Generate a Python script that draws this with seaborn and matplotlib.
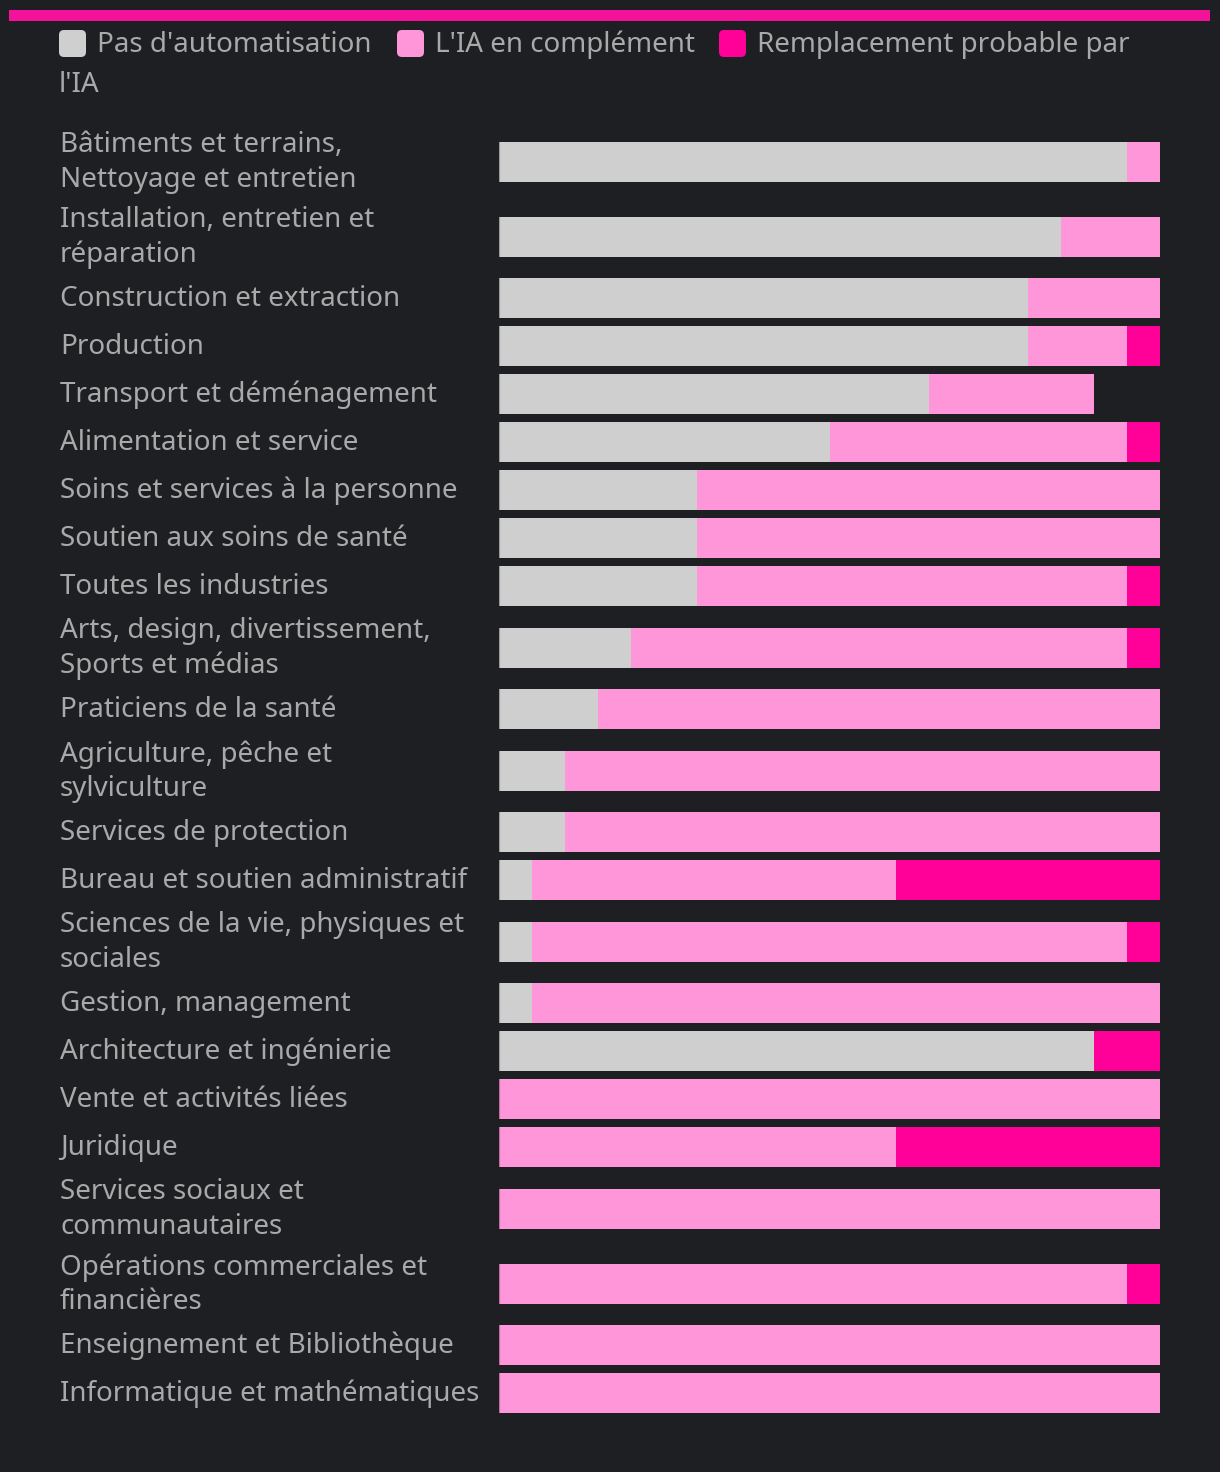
import numpy as np
import pandas as pd
import seaborn as sns
import matplotlib
matplotlib.use("Agg")
import matplotlib.pyplot as plt
import matplotlib.transforms as mtransforms
from matplotlib.patches import FancyBboxPatch, Rectangle

categories = [
    "Bâtiments et terrains,\nNettoyage et entretien",
    "Installation, entretien et\nréparation",
    "Construction et extraction",
    "Production",
    "Transport et déménagement",
    "Alimentation et service",
    "Soins et services à la personne",
    "Soutien aux soins de santé",
    "Toutes les industries",
    "Arts, design, divertissement,\nSports et médias",
    "Praticiens de la santé",
    "Agriculture, pêche et\nsylviculture",
    "Services de protection",
    "Bureau et soutien administratif",
    "Sciences de la vie, physiques et\nsociales",
    "Gestion, management",
    "Architecture et ingénierie",
    "Vente et activités liées",
    "Juridique",
    "Services sociaux et\ncommunautaires",
    "Opérations commerciales et\nfinancières",
    "Enseignement et Bibliothèque",
    "Informatique et mathématiques",
]
no_auto    = [95, 85, 80, 80, 65, 50, 30, 30, 30, 20, 15, 10, 10, 5, 5, 5, 90, 0, 0, 0, 0, 0, 0]
complement = [5, 15, 20, 15, 25, 45, 70, 70, 65, 75, 85, 90, 90, 55, 90, 95, 0, 100, 60, 100, 95, 100, 100]
replace    = [0, 0, 0, 5, 0, 5, 0, 0, 5, 5, 0, 0, 0, 40, 5, 0, 10, 0, 40, 0, 5, 0, 0]
legend_labels = ["Pas d'automatisation", "L'IA en complément", "Remplacement probable par\nl'IA"]

BG = "#1e1f22"
GRAY = "#cfcfcf"
PINK = "#ff96da"
RED = "#ff0099"
TOP = "#f5129a"
TXT = "#a9a9a9"
FONT = "Noto Sans"
FS = 20

W, H = 1220, 1472
fig = plt.figure(figsize=(W / 100, H / 100), dpi=100, facecolor=BG)

# row layout derived from number of label lines
row_h = np.array([75.0 if "\n" in c else 48.0 for c in categories])
centers = np.cumsum(row_h) - row_h / 2
total_h = row_h.sum()
top_px = 124
ax = fig.add_axes([499 / W, 1 - (top_px + total_h) / H, 661 / W, total_h / H])
ax.set_facecolor(BG)

df = pd.DataFrame({
    "cat": categories,
    "pos": centers,
    "a": np.array(no_auto, float),
    "ab": np.array(no_auto, float) + np.array(complement, float),
})
df["abc"] = df["ab"] + np.array(replace, float)

bw = 40 / 48
for col, colr in [("abc", RED), ("ab", PINK), ("a", GRAY)]:
    sns.barplot(data=df, x=col, y="pos", orient="h", native_scale=True,
                color=colr, saturation=1, width=bw, errorbar=None,
                linewidth=0, edgecolor="none", ax=ax)

# darker left edge of each bar
ax.vlines(np.zeros(len(df)), df["pos"] - 20, df["pos"] + 20, color="black",
          alpha=0.25, lw=1.6)

ax.set_xlim(0, 100)
ax.set_ylim(total_h, 0)
ax.axis("off")

# category labels
trans = mtransforms.blended_transform_factory(fig.transFigure, ax.transData)
for c, p in zip(categories, centers):
    ax.text(60 / W, p + 1, c, transform=trans, ha="left", va="center",
            color=TXT, fontsize=FS, family=FONT, linespacing=1.3)

# overlay for header
ov = fig.add_axes([0, 0, 1, 1], facecolor="none")
ov.set_xlim(0, W)
ov.set_ylim(H, 0)
ov.axis("off")
ov.add_patch(Rectangle((9, 10), 1201, 11, color=TOP, lw=0))

sq_x = [59, 397, 719]
tx_x = [97, 435, 757]
for sx, tx, lab, colr in zip(sq_x, tx_x, legend_labels, [GRAY, PINK, RED]):
    ov.add_patch(FancyBboxPatch((sx + 3, 33), 21, 21,
                                boxstyle="round,pad=3,rounding_size=5",
                                color=colr, lw=0))
    first = lab.split("\n")[0]
    ov.text(tx, 45, first, ha="left", va="center", color=TXT,
            fontsize=FS, family=FONT)
ov.text(59, 85, legend_labels[2].split("\n")[1], ha="left", va="center",
        color=TXT, fontsize=FS, family=FONT)

fig.savefig("out.png", dpi=100, facecolor=BG)
